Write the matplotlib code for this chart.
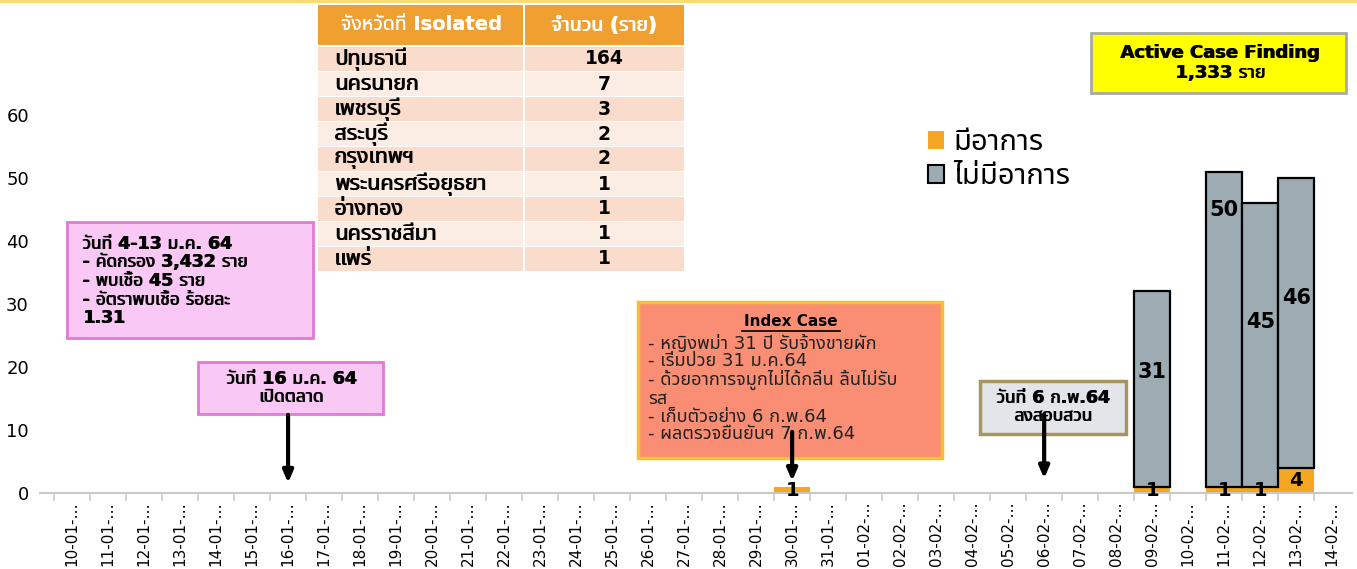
import matplotlib
matplotlib.use("Agg")
import matplotlib.pyplot as plt
from matplotlib import font_manager
from matplotlib.ft2font import FT2Font
from matplotlib.patches import Rectangle, Patch
from matplotlib.lines import Line2D

# หา font ที่มีอักษรไทย
def has_thai(path):
    try:
        return 0x0E01 in FT2Font(path).get_charmap()
    except Exception:
        return False

thai_fonts = []
for f in font_manager.fontManager.ttflist:
    if f.name not in thai_fonts and has_thai(f.fname):
        thai_fonts.append(f.name)
preferred = ["Tahoma", "Noto Sans Thai", "Noto Sans Thai UI", "Loma", "Garuda", "Waree", "Sarabun", "Kinnari", "Norasi"]
thai_fonts.sort(key=lambda n: preferred.index(n) if n in preferred else 99)
plt.rcParams["font.family"] = ["DejaVu Sans"] + thai_fonts[:1]

W, H = 1357, 569

# ข้อมูล
dates = ["10-01", "11-01", "12-01", "13-01", "14-01", "15-01", "16-01", "17-01", "18-01",
         "19-01", "20-01", "21-01", "22-01", "23-01", "24-01", "25-01", "26-01", "27-01",
         "28-01", "29-01", "30-01", "31-01", "01-02", "02-02", "03-02", "04-02", "05-02",
         "06-02", "07-02", "08-02", "09-02", "10-02", "11-02", "12-02", "13-02", "14-02"]
symptomatic = [0, 0, 0, 0, 0, 0, 0, 0, 0, 0, 0, 0, 0, 0, 0, 0, 0, 0,
               0, 0, 1, 0, 0, 0, 0, 0, 0, 0, 0, 0, 1, 0, 1, 1, 4, 0]
asymptomatic = [0, 0, 0, 0, 0, 0, 0, 0, 0, 0, 0, 0, 0, 0, 0, 0, 0, 0,
                0, 0, 0, 0, 0, 0, 0, 0, 0, 0, 0, 0, 31, 0, 50, 45, 46, 0]
# ตำแหน่งตัวเลขบนแท่งสีเทา (ย้ายเองเหมือนในต้นฉบับ)
asym_label_y = {"09-02": 19.2, "11-02": 45.0, "12-02": 27.2, "13-02": 31.0}

provinces = ["ปทุมธานี", "นครนายก", "เพชรบุรี", "สระบุรี", "กรุงเทพฯ",
             "พระนครศรีอยุธยา", "อ่างทอง", "นครราชสีมา", "แพร่"]
province_counts = [164, 7, 3, 2, 2, 1, 1, 1, 1]

orange = "#F5A623"
grey = "#9DABB3"

fig = plt.figure(figsize=(W / 100, H / 100), dpi=100)
ax = fig.add_axes([40 / W, 76 / H, 1312 / W, 441 / H])

x = list(range(len(dates)))
ax.bar(x, symptomatic, width=1.0, color=orange, zorder=2)
gx = [i for i in x if asymptomatic[i] > 0]
ax.bar(gx, [asymptomatic[i] for i in gx], bottom=[symptomatic[i] for i in gx], width=1.0,
       color=grey, edgecolor="black", linewidth=1.6, zorder=3)

for i in x:
    if symptomatic[i] > 0:
        yy = symptomatic[i] / 2 if symptomatic[i] > 2 else 0.35
        ax.text(i, yy, str(symptomatic[i]), ha="center", va="center",
                fontsize=14, fontweight="bold", zorder=4)
    if asymptomatic[i] > 0:
        ax.text(i, asym_label_y[dates[i]], str(asymptomatic[i]), ha="center", va="center",
                fontsize=15, fontweight="bold", zorder=4)

ax.set_xlim(-0.89, 35.55)
ax.set_ylim(0, 70)
ax.set_yticks(range(0, 61, 10))
ax.set_xticks(x)
ax.set_xticklabels([d + "-…" for d in dates], rotation=90, fontsize=11)
ax.set_xticks([i + 0.5 for i in x[:-1]] + [-0.5], minor=True)
ax.tick_params(axis="x", which="major", length=0, pad=6)
ax.tick_params(axis="x", which="minor", length=6, color="#C8C8C8", width=1.2)
ax.tick_params(axis="y", length=0, labelsize=13, pad=8)
for s in ["top", "right", "left"]:
    ax.spines[s].set_visible(False)
ax.spines["bottom"].set_color("#C8C8C8")
ax.spines["bottom"].set_linewidth(1.5)


def fig_rect(x0, y0, x1, y1, fc, ec="none", lw=0, z=5):
    ax.add_patch(Rectangle((x0 / W, 1 - y1 / H), (x1 - x0) / W, (y1 - y0) / H,
                           transform=fig.transFigure, facecolor=fc, edgecolor=ec,
                           linewidth=lw, clip_on=False, zorder=z))


def fig_text(px, py, s, **kw):
    ax.text(px / W, 1 - py / H, s, transform=fig.transFigure, clip_on=False, zorder=6, **kw)


def fig_text_bold(px, py, s, **kw):
    # font ไทยไม่มีตัวหนา: วาดซ้ำเลื่อน 1 px ให้ดูหนาขึ้น
    fig_text(px, py, s, fontweight="bold", **kw)
    fig_text(px + 0.9, py, s, fontweight="bold", **kw)


def arrow(date, y_start, y_tip):
    i = dates.index(date)
    ax.annotate("", xy=(i, y_tip), xytext=(i, y_start), annotation_clip=False, zorder=7,
                arrowprops=dict(arrowstyle="-|>,head_width=0.3,head_length=0.7",
                                lw=3, color="black", shrinkA=0, shrinkB=0))


# แถบเหลืองด้านบน
fig_rect(0, 0, W, 3, "#F7DC6F", z=1)

# ตาราง
fig_rect(318, 5, 523, 45, "#EFA030")
fig_rect(525, 5, 684, 45, "#EFA030")
fig_text_bold(421, 25, "จังหวัดที่ Isolated", ha="center", va="center", color="white", fontsize=14)
fig_text_bold(604, 25, "จำนวน (ราย)", ha="center", va="center", color="white", fontsize=14)
for k, (p, c) in enumerate(zip(provinces, province_counts)):
    top = 47 + k * 25
    fc = "#F9DCCB" if k % 2 == 0 else "#FCEDE4"
    fig_rect(318, top, 523, top + 24, fc)
    fig_rect(525, top, 684, top + 24, fc)
    fig_text_bold(334, top + 12, p, ha="left", va="center", fontsize=15.5)
    fig_text(604, top + 12, str(c), ha="center", va="center", fontsize=13.5, fontweight="bold")

# กล่องข้อความ
fig_rect(67, 222, 313, 338, "#F9C8F4", "#E27AD5", 2)
fig_text_bold(82, 281, "วันที่ 4-13 ม.ค. 64\n- คัดกรอง 3,432 ราย\n- พบเชื้อ 45 ราย\n"
              "- อัตราพบเชื้อ ร้อยละ\n1.31", ha="left", va="center", fontsize=12.5,
              linespacing=1.05)

fig_rect(198, 362, 383, 414, "#F9C8F4", "#E27AD5", 2)
fig_text_bold(291, 388, "วันที่ 16 ม.ค. 64\nเปิดตลาด", ha="center", va="center",
              fontsize=12.5, linespacing=1.05)

fig_rect(638, 302, 942, 458, "#F98E74", "#F2C12E", 2.5)
fig_text(791, 321, "Index Case", ha="center", va="center", fontsize=11, fontweight="bold")
ax.add_line(Line2D([742 / W, 840 / W], [1 - 331 / H, 1 - 331 / H], transform=fig.transFigure,
                   color="black", lw=1.2, clip_on=False, zorder=6))
fig_text(648, 389, "- หญิงพม่า 31 ปี รับจ้างขายผัก\n- เริ่มป่วย 31 ม.ค.64\n"
         "- ด้วยอาการจมูกไม่ได้กลิ่น ลิ้นไม่รับ\nรส\n- เก็บตัวอย่าง 6 ก.พ.64\n"
         "- ผลตรวจยืนยันฯ 7 ก.พ.64", ha="left", va="center", fontsize=13,
         linespacing=0.98, color="#222222")

fig_rect(980, 381, 1126, 434, "#E2E6EA", "#A8955A", 2.5)
fig_text_bold(1053, 407, "วันที่ 6 ก.พ.64\nลงสอบสวน", ha="center", va="center",
              fontsize=12.5, linespacing=1.05)

fig_rect(1091, 33, 1346, 93, "#FFFF00", "#A8A8A8", 2)
fig_text_bold(1220, 63, "Active Case Finding\n1,333 ราย", ha="center", va="center",
              fontsize=13, linespacing=1.1)

arrow("16-01", 12.4, 1.6)
arrow("30-01", 9.7, 1.9)
arrow("06-02", 12.5, 2.3)

handles = [Patch(facecolor=orange, edgecolor="none"),
           Patch(facecolor=grey, edgecolor="black", linewidth=1.5)]
ax.legend(handles, ["มีอาการ", "ไม่มีอาการ"], loc="upper left",
          bbox_to_anchor=(902 / W, 1 - 102 / H), bbox_transform=fig.transFigure,
          frameon=False, fontsize=21, handlelength=0.55, handleheight=0.55,
          handletextpad=0.3, labelspacing=0.2)

fig.savefig("out.png", dpi=100)
